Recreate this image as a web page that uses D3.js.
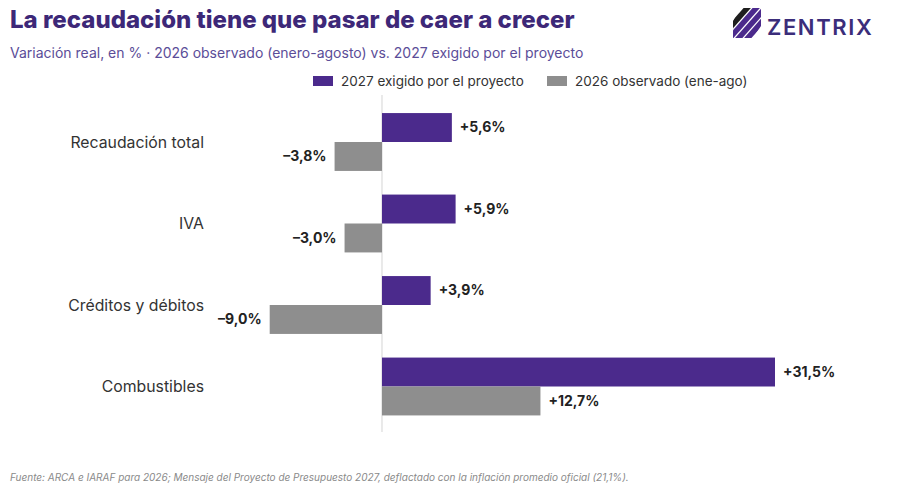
<!DOCTYPE html>
<html>
<head>
<meta charset="utf-8">
<script src="https://cdn.jsdelivr.net/npm/d3@7"></script>
<style>
  body { margin: 0; background: #fff; }
  svg { display: block; font-family: Inter, "Noto Sans", sans-serif; }
</style>
</head>
<body>
<div id="chart"></div>
<script>
const categories = ['Recaudación total', 'IVA', 'Créditos y débitos', 'Combustibles'];
const seriesNames = ['2027 exigido por el proyecto', '2026 observado (ene-ago)'];
const values2027 = [5.6, 5.9, 3.9, 31.5];
const values2026 = [-3.8, -3.0, -9.0, 12.7];

const width = 900, height = 491;
const colors = ['#4b2a8c', '#8e8e8e'];

const svg = d3.select('#chart').append('svg')
  .attr('width', width)
  .attr('height', height);

// title block
svg.append('text')
  .attr('x', 10).attr('y', 28)
  .attr('fill', '#3d2878')
  .attr('font-size', 24)
  .attr('font-weight', 800)
  .text('La recaudación tiene que pasar de caer a crecer');

svg.append('text')
  .attr('x', 10).attr('y', 58)
  .attr('fill', '#5b4d98')
  .attr('font-size', 14)
  .text('Variación real, en % · 2026 observado (enero-agosto) vs. 2027 exigido por el proyecto');

// logo
svg.append('clipPath').attr('id', 'logo-clip')
  .append('path')
  .attr('d', 'M740,8 L761,8 L761,26 L753,38 L733,38 L733,21 Z');
const logo = svg.append('g').attr('clip-path', 'url(#logo-clip)');
[-14, -5, 4, 13].forEach((o, i) => {
  logo.append('line')
    .attr('x1', 733 + o).attr('y1', 40)
    .attr('x2', 763 + o).attr('y2', 6)
    .attr('stroke', i === 0 ? '#1e1e1e' : '#4b2a8c')
    .attr('stroke-width', 5.5);
});
svg.append('text')
  .attr('x', 767).attr('y', 35)
  .attr('fill', '#3b2d7a')
  .attr('font-size', 22)
  .attr('font-weight', 600)
  .attr('letter-spacing', 1.6)
  .text('ZENTRIX');

// legend
const legend = svg.append('g');
const legendX = [313, 547];
seriesNames.forEach((name, i) => {
  legend.append('rect')
    .attr('x', legendX[i]).attr('y', 76)
    .attr('width', 20).attr('height', 10)
    .attr('fill', colors[i]);
  legend.append('text')
    .attr('x', legendX[i] + 28).attr('y', 86)
    .attr('font-size', 13.5)
    .attr('fill', '#333')
    .text(name);
});

// scales
const x = d3.scaleLinear()
  .domain([-9, 31.5])
  .range([269.7, 775]);

const y = d3.scaleBand()
  .domain(categories)
  .range([101.25, 427.25])
  .paddingInner(0.29)
  .paddingOuter(0.145);

const ySub = d3.scaleBand()
  .domain([0, 1])
  .range([0, y.bandwidth()]);

// zero line
svg.append('line')
  .attr('x1', x(0)).attr('x2', x(0))
  .attr('y1', 95).attr('y2', 432)
  .attr('stroke', '#d4d4d4')
  .attr('stroke-width', 1);

// category labels
svg.append('g')
  .selectAll('text')
  .data(categories)
  .join('text')
  .attr('x', 204)
  .attr('y', d => y(d) + y.bandwidth() / 2)
  .attr('dy', '0.35em')
  .attr('text-anchor', 'end')
  .attr('font-size', 15.8)
  .attr('fill', '#333')
  .text(d => d);

const rows = categories.flatMap((c, i) => [
  { cat: c, s: 0, v: values2027[i] },
  { cat: c, s: 1, v: values2026[i] },
]);

const fmt = v => (v > 0 ? '+' : '\u2013') + d3.format('.1f')(Math.abs(v)).replace('.', ',') + '%';

svg.append('g')
  .selectAll('rect')
  .data(rows)
  .join('rect')
  .attr('x', d => x(Math.min(0, d.v)))
  .attr('width', d => Math.abs(x(d.v) - x(0)))
  .attr('y', d => y(d.cat) + ySub(d.s))
  .attr('height', ySub.bandwidth())
  .attr('fill', d => colors[d.s]);

svg.append('g')
  .selectAll('text')
  .data(rows)
  .join('text')
  .attr('x', d => x(d.v) + (d.v >= 0 ? 8 : -8))
  .attr('y', d => y(d.cat) + ySub(d.s) + ySub.bandwidth() / 2)
  .attr('dy', '0.35em')
  .attr('text-anchor', d => d.v >= 0 ? 'start' : 'end')
  .attr('font-size', 14)
  .attr('font-weight', 700)
  .attr('fill', '#222')
  .text(d => fmt(d.v));

// footer
svg.append('text')
  .attr('x', 10).attr('y', 481)
  .attr('font-size', 10)
  .attr('font-style', 'italic')
  .attr('fill', '#8a8a8a')
  .text('Fuente: ARCA e IARAF para 2026; Mensaje del Proyecto de Presupuesto 2027, deflactado con la inflación promedio oficial (21,1%).');
</script>
</body>
</html>
